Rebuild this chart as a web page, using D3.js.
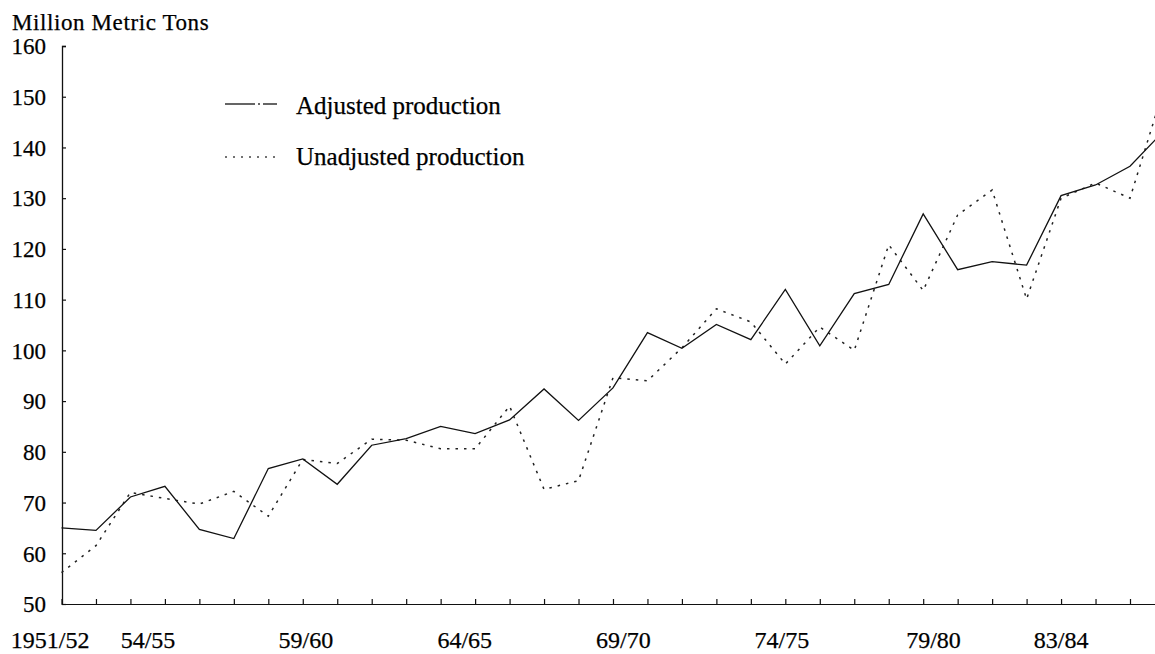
<!DOCTYPE html>
<html><head><meta charset="utf-8">
<script src="https://cdn.jsdelivr.net/npm/d3@7/dist/d3.min.js"></script>
<style>
html,body{margin:0;padding:0;background:#fff;}
svg{display:block;}
text{font-family:"Liberation Serif","DejaVu Serif",serif;fill:#000;stroke:#000;stroke-width:0.25px;}
</style></head>
<body>
<svg id="c" width="1155" height="654"></svg>
<script>
// ---- data ----
const years = ["1951/52","1952/53","1953/54","1954/55","1955/56","1956/57","1957/58","1958/59","1959/60","1960/61",
  "1961/62","1962/63","1963/64","1964/65","1965/66","1966/67","1967/68","1968/69","1969/70","1970/71",
  "1971/72","1972/73","1973/74","1974/75","1975/76","1976/77","1977/78","1978/79","1979/80","1980/81",
  "1981/82","1982/83","1983/84"];
const adjusted = [65.0, 64.5, 71.1, 73.2, 64.7, 62.9, 76.7, 78.6, 73.6, 81.3,
  82.6, 85.0, 83.6, 86.3, 92.4, 86.2, 92.6, 103.5, 100.4, 105.1,
  102.1, 112.0, 100.9, 111.2, 113.0, 126.9, 115.9, 117.5, 116.8, 130.5,
  132.6, 136.3, 143.4];
const unadjusted = [56.2, 61.5, 72.0, 70.8, 69.7, 72.2, 67.3, 78.5, 77.7, 82.5,
  82.3, 80.6, 80.6, 89.0, 72.6, 74.3, 94.6, 94.0, 100.5, 108.2,
  105.6, 97.3, 104.6, 100.0, 120.8, 111.8, 126.7, 131.6, 110.1, 130.0,
  133.0, 130.0, 152.0];
const yTicks = [50,60,70,80,90,100,110,120,130,140,150,160];
const xLabels = ["1951/52","54/55","59/60","64/65","69/70","74/75","79/80","83/84"];
const xLabelAt = [-0.33, 2.51, 7.09, 11.7, 16.3, 20.9, 25.3, 29.0]; // index units, as printed
const seriesNames = ["Adjusted production","Unadjusted production"];

// ---- layout ----
const svg = d3.select("#c");
const x = d3.scaleLinear().domain([0, 31]).range([61.5, 1130]);
const y = d3.scaleLinear().domain([50, 160]).range([604, 46]);
const xIdx = d3.range(years.length);

svg.append("defs").append("clipPath").attr("id","clip")
  .append("rect").attr("x",61).attr("y",0).attr("width",1155-61).attr("height",654);

// title
svg.append("text").attr("x",12).attr("y",30).attr("font-size",23)
  .attr("letter-spacing","0.6px").text("Million Metric Tons");

// y axis
const yAxis = svg.append("g").attr("transform","translate(62,0)")
  .call(d3.axisRight(y).tickValues(yTicks).tickSize(4).tickFormat(""));
yAxis.select(".domain").attr("d","M4,46.5H0.5V604.5").attr("stroke","#111").attr("stroke-width",1.3);
yAxis.selectAll(".tick line").attr("stroke","#111").attr("stroke-width",1.2);
svg.append("g").selectAll("text").data(yTicks).join("text")
  .attr("x",46).attr("y",d=>y(d)).attr("dy","0.36em").attr("text-anchor","end")
  .attr("font-size",23).text(d=>d);

// x axis
const xAxis = svg.append("g").attr("transform","translate(0,604)")
  .call(d3.axisTop(x).tickValues(d3.range(0,32)).tickSize(5).tickSizeOuter(0).tickFormat(""));
xAxis.select(".domain").attr("d","M61.5,0.5H1155").attr("stroke","#111").attr("stroke-width",1.2);
xAxis.selectAll(".tick line").attr("stroke","#111").attr("stroke-width",1.2);
svg.append("g").selectAll("text").data(xLabels).join("text")
  .attr("x",(d,i)=>x(xLabelAt[i])).attr("y",648).attr("text-anchor","middle")
  .attr("font-size",24).text(d=>d);

// lines
const g = svg.append("g").attr("clip-path","url(#clip)");
g.append("path")
  .attr("d", d3.line().x(i=>x(i)).y(i=>y(unadjusted[i]))(xIdx))
  .attr("fill","none").attr("stroke","#222").attr("stroke-width",1.5)
  .attr("stroke-dasharray","2.5,6");
g.append("path")
  .attr("d", d3.line().x(i=>x(i)).y(i=>y(adjusted[i]))(xIdx))
  .attr("fill","none").attr("stroke","#111").attr("stroke-width",1.3)
  .attr("stroke-linejoin","miter");

// legend
const leg = svg.append("g");
leg.append("line").attr("x1",225).attr("x2",277).attr("y1",104).attr("y2",104)
  .attr("stroke","#333").attr("stroke-width",1.3).attr("stroke-dasharray","30,3,2,3,30");
leg.append("text").attr("x",296).attr("y",114).attr("font-size",25).text(seriesNames[0]);
leg.append("line").attr("x1",225).attr("x2",277).attr("y1",157).attr("y2",157)
  .attr("stroke","#444").attr("stroke-width",1.3).attr("stroke-dasharray","2,6");
leg.append("text").attr("x",296).attr("y",165).attr("font-size",25).text(seriesNames[1]);
</script>
</body></html>
